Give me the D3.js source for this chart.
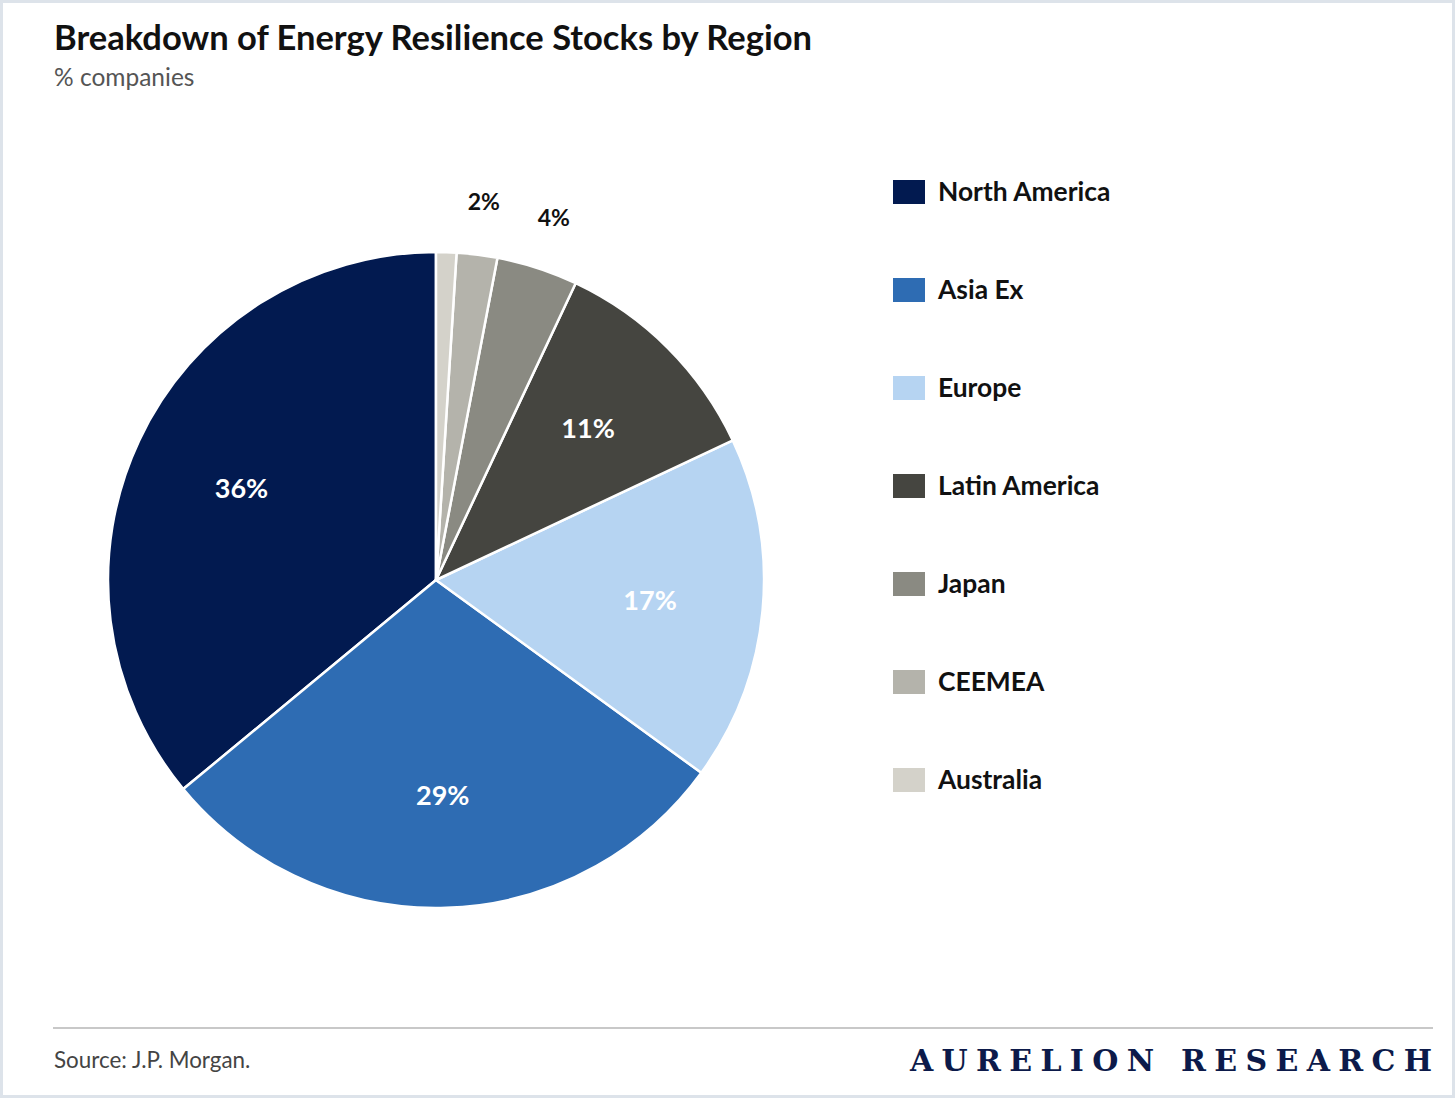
<!DOCTYPE html>
<html>
<head>
<meta charset="utf-8">
<title>Breakdown of Energy Resilience Stocks by Region</title>
<script src="https://d3js.org/d3.v7.min.js"></script>
<style>
    html, body { margin: 0; padding: 0; background: #fff; }
    svg { display: block; }
    text { font-family: Lato, "Noto Sans", sans-serif; }
</style>
</head>
<body>
<svg id="chart"></svg>
<script>
    // data
    var regions = ["North America", "Asia Ex", "Europe", "Latin America", "Japan", "CEEMEA", "Australia"]
    var shares = [36, 29, 17, 11, 4, 2, 1]
    var colors = ["#021a50", "#2e6cb3", "#b6d4f2", "#454540", "#8a8a82", "#b4b3ab", "#d4d2ca"]
    // labels inside the slice (white) or outside (black); null = no label
    var labelPos = ["in", "in", "in", "in", "out", "out", null]

    var width = 1456, height = 1099

    var svg = d3.select("#chart")
        .attr("width", width)
        .attr("height", height)

    // frame
    svg.append("rect").attr("x", 1.5).attr("y", 1.5).attr("width", width - 4).attr("height", height - 4)
        .attr("fill", "#fff").attr("stroke", "#dde3ea").attr("stroke-width", 3)

    // titles
    svg.append("text").attr("x", 54).attr("y", 50).text("Breakdown of Energy Resilience Stocks by Region")
        .style("font-size", "34.5px").style("font-weight", "bold").attr("fill", "#111")
    svg.append("text").attr("x", 54).attr("y", 86).text("% companies")
        .style("font-size", "24.5px").attr("fill", "#555")

    // pie
    var cx = 436, cy = 580, r = 328

    var pie = d3.pie().sort(null).value(function(d) { return d }).startAngle(0).endAngle(-2 * Math.PI)
    var arcs = pie(shares)

    var arc = d3.arc().innerRadius(0).outerRadius(r)
    var inArc = d3.arc().innerRadius(215).outerRadius(215)
    var outArc = d3.arc().innerRadius(381).outerRadius(381)

    var g = svg.append("g").attr("transform", "translate(" + cx + "," + cy + ")")

    g.selectAll(".slice")
        .data(arcs)
        .enter().append("path")
        .attr("class", "slice")
        .attr("d", arc)
        .attr("fill", function(d, i) { return colors[i] })
        .attr("stroke", "#fff")
        .attr("stroke-width", 2.5)
        .attr("stroke-linejoin", "round")

    g.selectAll(".lbl")
        .data(arcs.filter(function(d, i) { return labelPos[i] }))
        .enter().append("text")
        .attr("class", "lbl")
        .attr("transform", function(d) {
            var p = labelPos[d.index] == "in" ? inArc.centroid(d) : outArc.centroid(d)
            return "translate(" + p + ")"
        })
        .attr("text-anchor", "middle")
        .attr("dy", "0.36em")
        .style("font-weight", "bold")
        .style("font-size", function(d) { return labelPos[d.index] == "in" ? "27px" : "23px" })
        .attr("fill", function(d) { return labelPos[d.index] == "in" ? "#fff" : "#111" })
        .text(function(d) { return d.data + "%" })

    // legend
    var legend = svg.append("g").attr("transform", "translate(893,180)")
    var rows = legend.selectAll(".row")
        .data(regions)
        .enter().append("g")
        .attr("class", "row")
        .attr("transform", function(d, i) { return "translate(0," + (i * 98) + ")" })
    rows.append("rect").attr("width", 32).attr("height", 24)
        .attr("fill", function(d, i) { return colors[i] })
    rows.append("text").attr("x", 45).attr("y", 21).text(function(d) { return d })
        .style("font-size", "26.4px").style("font-weight", "bold").attr("fill", "#111")

    // footer
    svg.append("line").attr("x1", 53).attr("x2", 1433).attr("y1", 1028).attr("y2", 1028)
        .attr("stroke", "#c8c8c8").attr("stroke-width", 2)
    svg.append("text").attr("x", 54).attr("y", 1068).text("Source: J.P. Morgan.")
        .style("font-size", "22.4px").attr("fill", "#444")
    svg.append("text").attr("x", 910).attr("y", 1071).text("AURELION RESEARCH")
        .attr("textLength", 522).attr("lengthAdjust", "spacing")
        .style("font-family", "'DejaVu Serif', 'Liberation Serif', serif")
        .style("font-size", "30px").style("font-weight", "bold").attr("fill", "#0c1a4a")
</script>
</body>
</html>
